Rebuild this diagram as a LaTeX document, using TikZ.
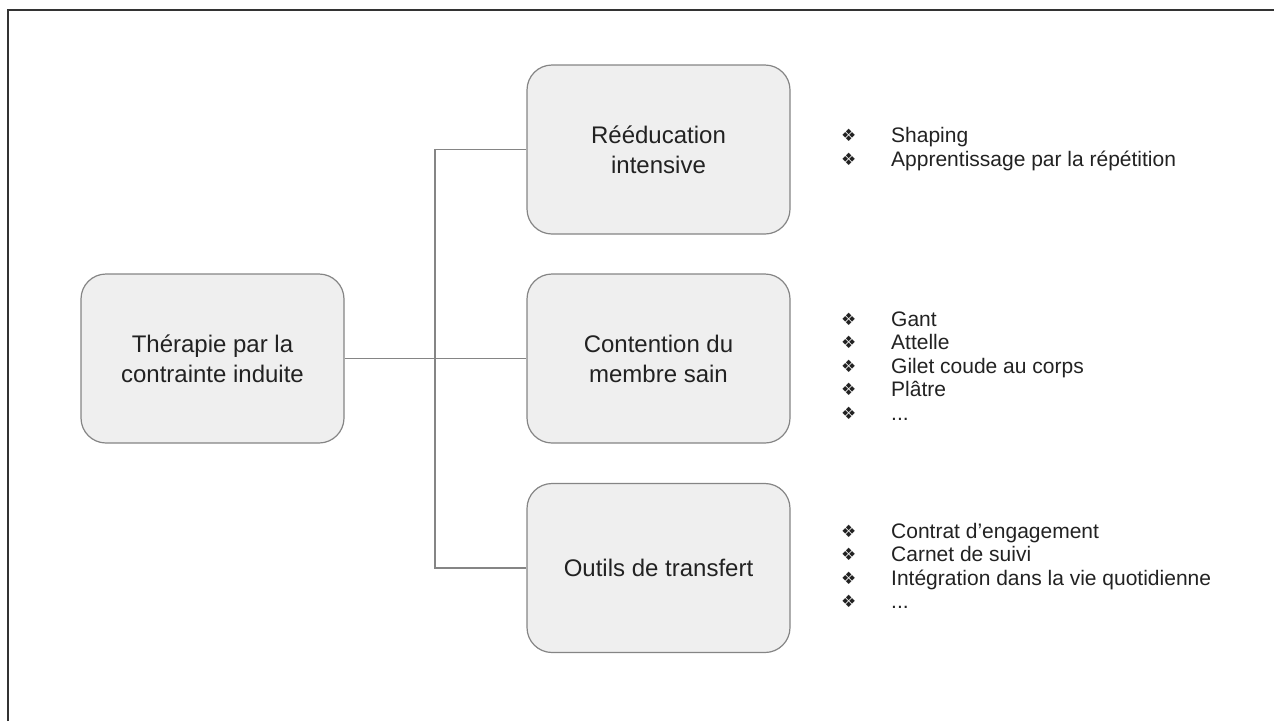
\documentclass[tikz,border=0pt]{standalone}
\usepackage{fontspec}
\setmainfont{Liberation Sans}
\newfontfamily\symfont{DejaVu Sans}
\definecolor{boxfill}{HTML}{EFEFEF}
\definecolor{boxline}{HTML}{858585}
\definecolor{txt}{HTML}{222222}
\newcommand{\bul}{\makebox[50pt][l]{\raisebox{1pt}{\symfont\fontsize{17}{17}\selectfont ❖}}}

\begin{document}
\begin{tikzpicture}[x=1pt,y=-1pt,
    every node/.style={text=txt},
    block/.style={draw=boxline, line width=1.2pt, fill=boxfill, rounded corners=25pt,
        minimum width=263pt, minimum height=169pt, align=center,
        font=\fontsize{24}{30}\selectfont},
    itemlist/.style={anchor=west, inner sep=0pt, align=left,
        font=\fontsize{21}{23.5}\selectfont},
    link/.style={draw=boxline, line width=1.2pt}]
            \useasboundingbox (0,0) rectangle (1274,721);
            \draw [black!80, line width=1.5pt] (8,721) -- (8,10) -- (1274,10);
            \node [block] (root) at (212.5,358.5) {Thérapie par la\\contrainte induite};
            \node [block] (reed) at (658.5,149.5) {Rééducation\\intensive};
            \node [block] (cont) at (658.5,358.5) {Contention du\\membre sain};
            \node [block] (outl) at (658.5,568) {Outils de transfert};
            \coordinate (bus) at (435,358.5);
            \draw [link] (root.east) -- (cont.west);
            \draw [link] (reed.west) -| (bus) |- (outl.west);
            \node [itemlist] (lreed) at (841,149) {\bul Shaping\\\bul Apprentissage par la répétition};
            \node [itemlist] (lcont) at (841,366) {\bul Gant\\\bul Attelle\\\bul Gilet coude au corps\\\bul Plâtre\\\bul ...};
            \node [itemlist] (loutl) at (841,566) {\bul Contrat d’engagement\\\bul Carnet de suivi\\\bul Intégration dans la vie quotidienne\\\bul ...};
        \end{tikzpicture}
\end{document}
